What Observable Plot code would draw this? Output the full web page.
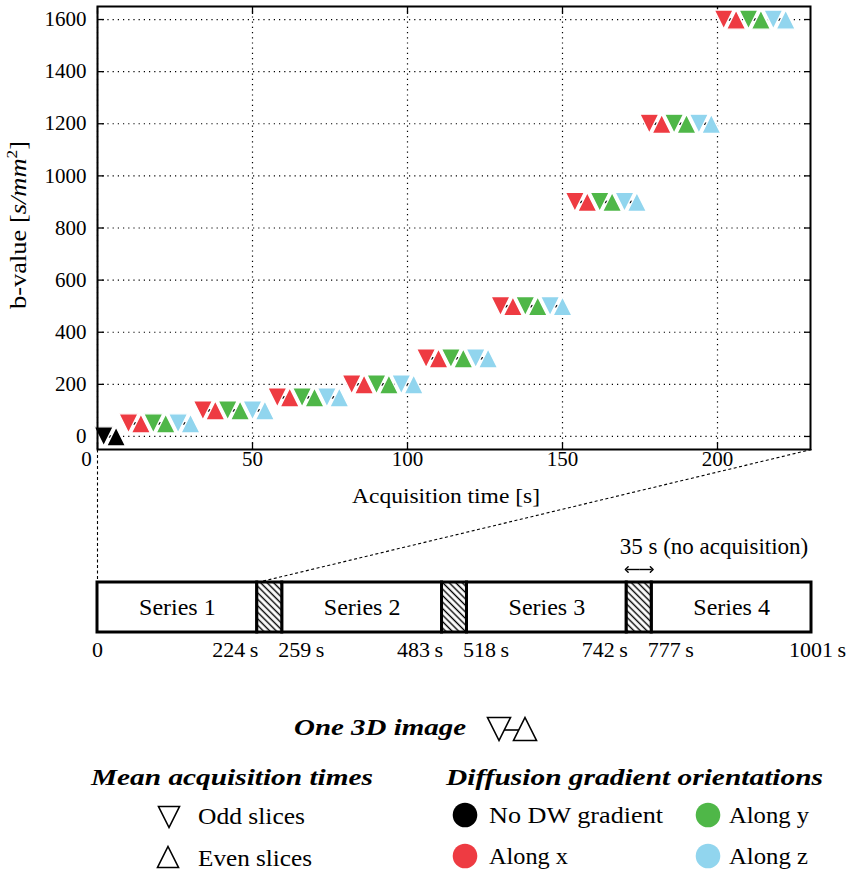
<!DOCTYPE html>
<html>
<head>
<meta charset="utf-8">
<script src="https://cdn.jsdelivr.net/npm/d3@7"></script>
<script src="https://cdn.jsdelivr.net/npm/@observablehq/plot@0.6"></script>
<style>
  body { margin: 0; background: #fff; }
  #wrap { position: relative; width: 850px; height: 871px; overflow: hidden; }
  #wrap svg { position: absolute; left: 0; }
</style>
</head>
<body>
<div id="wrap"></div>
<script>
// ---------------- data ----------------
const bValues = [0, 50, 100, 150, 200, 300, 500, 900, 1200, 1600];
const imageB = [0, 50, 50, 50, 100, 100, 100, 150, 150, 150, 200, 200, 200, 300, 300, 300,
                500, 500, 500, 900, 900, 900, 1200, 1200, 1200, 1600, 1600, 1600];
const imageOrientation = ["none", "x", "y", "z", "x", "y", "z", "x", "y", "z", "x", "y", "z", "x", "y", "z",
                          "x", "y", "z", "x", "y", "z", "x", "y", "z", "x", "y", "z"];
const oddSliceTime = [2, 10, 18, 26, 34, 42, 50, 58, 66, 74, 82, 90, 98, 106, 114, 122,
                      130, 138, 146, 154, 162, 170, 178, 186, 194, 202, 210, 218];
const evenSliceTime = [6, 14, 22, 30, 38, 46, 54, 62, 70, 78, 86, 94, 102, 110, 118, 126,
                       134, 142, 150, 158, 166, 174, 182, 190, 198, 206, 214, 222];
const orientations = ["none", "x", "y", "z"];
const orientationLabels = ["No DW gradient", "Along x", "Along y", "Along z"];
const orientationColors = ["#000000", "#ee3b42", "#4fb748", "#91d5ee"];
const yTicks = [0, 200, 400, 600, 800, 1000, 1200, 1400, 1600];
const xTicks = [0, 50, 100, 150, 200];

const seriesNames = ["Series 1", "Series 2", "Series 3", "Series 4"];
const seriesStart = [0, 259, 518, 777];
const seriesEnd = [224, 483, 742, 1001];
const gapStart = [224, 483, 742];
const gapEnd = [259, 518, 777];
const boundaryTimes = [0, 224, 259, 483, 518, 742, 777, 1001];
const boundaryLabels = ["0", "224\u2009s", "259\u2009s", "483\u2009s", "518\u2009s", "742\u2009s", "777\u2009s", "1001\u2009s"];
const gapNote = "35 s (no acquisition)";

// ---------------- helpers ----------------
const FONT = '"Liberation Serif", "DejaVu Serif", serif';
const images = imageB.map((b, i) => ({b, o: imageOrientation[i], t1: oddSliceTime[i], t2: evenSliceTime[i]}));
const slices = images.flatMap(d => [
  {t: d.t1, b: d.b, o: d.o, kind: "odd"},
  {t: d.t2, b: d.b, o: d.o, kind: "even"}
]);
const triangleDown = {draw(ctx, size) { const r = Math.sqrt(size / Math.PI); ctx.moveTo(0, r); ctx.lineTo(-r, -r); ctx.lineTo(r, -r); ctx.closePath(); }};
const triangleUp = {draw(ctx, size) { const r = Math.sqrt(size / Math.PI); ctx.moveTo(0, -r); ctx.lineTo(r, r); ctx.lineTo(-r, r); ctx.closePath(); }};
const grid = {stroke: "black", strokeOpacity: 1, strokeWidth: 1.2, strokeDasharray: "1.2,4"};
const wrap = document.getElementById("wrap");

// ---------------- top chart ----------------
const topChart = Plot.plot({
  width: 850, height: 519,
  marginTop: 6, marginBottom: 70, marginLeft: 97, marginRight: 40,
  style: {fontFamily: FONT, fontSize: "21px", background: "none", color: "black", overflow: "visible"},
  x: {domain: [0, 230], axis: null},
  y: {domain: [-50, 1650], axis: null},
  color: {domain: orientations, range: orientationColors},
  symbol: {domain: ["odd", "even"], range: [triangleDown, triangleUp]},
  marks: [
    Plot.gridY(yTicks, grid),
    Plot.gridX(xTicks, grid),
    Plot.axisY(yTicks, {anchor: "left", tickSize: 0, tickPadding: 11, label: null, tickFormat: d => String(d)}),
    Plot.axisY(yTicks, {anchor: "left", tickSize: -7, strokeWidth: 1.3, label: null, tickFormat: () => ""}),
    Plot.axisY(yTicks, {anchor: "right", tickSize: -7, strokeWidth: 1.3, label: null, tickFormat: () => ""}),
    Plot.axisX(xTicks, {anchor: "bottom", tickSize: -7, strokeWidth: 1.3, label: null, tickFormat: () => ""}),
    Plot.axisX(xTicks, {anchor: "top", tickSize: -7, strokeWidth: 1.3, label: null, tickFormat: () => ""}),
    Plot.text(xTicks.filter(d => d > 0), {x: d => d, frameAnchor: "bottom", dy: 16, text: d => String(d)}),
    Plot.text(xTicks.filter(d => d === 0), {x: d => d, frameAnchor: "bottom", dy: 16, dx: -11, text: d => String(d)}),
    Plot.link(images, {x1: "t1", x2: "t2", y1: "b", y2: "b", stroke: "black", strokeWidth: 2.5}),
    Plot.dot(slices, {x: "t", y: "b", fill: "o", symbol: "kind", r: 9.6, stroke: "white", strokeWidth: 1.4}),
    Plot.frame({stroke: "black", strokeWidth: 2})
  ]
});
topChart.style.top = "0px";
{
  const s = d3.select(topChart);
  const yl = s.append("text").attr("transform", "translate(26,225) rotate(-90)")
    .attr("text-anchor", "middle").attr("font-size", 23).attr("fill", "black")
    .attr("textLength", 168).attr("lengthAdjust", "spacingAndGlyphs");
  yl.append("tspan").text("b-value [");
  yl.append("tspan").attr("font-style", "italic").text("s/mm");
  yl.append("tspan").attr("font-size", 15).attr("dy", -9).text("2");
  yl.append("tspan").attr("dy", 9).text("]");
  s.append("text").attr("x", 446).attr("y", 503).attr("text-anchor", "middle")
    .attr("font-size", 22).attr("fill", "black").attr("textLength", 188)
    .attr("lengthAdjust", "spacingAndGlyphs").text("Acquisition time [s]");
}
wrap.appendChild(topChart);

// ---------------- series timeline ----------------
const zoomFrameLevel = 3.66;
const series = seriesNames.map((name, i) => ({name, s: seriesStart[i], e: seriesEnd[i]}));
const gaps = gapStart.map((s, i) => ({s, e: gapEnd[i]}));
const bounds = boundaryTimes.map((t, i) => ({t, label: boundaryLabels[i], i}));
const last = boundaryTimes.length - 1;
const connectors = [
  {top: boundaryTimes[0], bar: seriesStart[0]},
  {top: boundaryTimes[last], bar: seriesEnd[0]}
];
const noteGap = gaps[gaps.length - 1];
const arrowHalves = [
  {from: (noteGap.s + noteGap.e) / 2, to: noteGap.s},
  {from: (noteGap.s + noteGap.e) / 2, to: noteGap.e}
];

const timeline = Plot.plot({
  width: 850, height: 223,
  marginTop: 0, marginBottom: 40, marginLeft: 97, marginRight: 39,
  style: {fontFamily: FONT, fontSize: "22px", background: "none", color: "black", overflow: "visible"},
  x: {domain: [0, 1001], axis: null},
  y: {domain: [0, zoomFrameLevel], axis: null},
  marks: [
    Plot.link(connectors, {x1: "top", y1: zoomFrameLevel, x2: "bar", y2: 1, stroke: "black", strokeWidth: 1.1, strokeDasharray: "3,2.5"}),
    Plot.rect(series, {x1: "s", x2: "e", y1: 0, y2: 1, fill: "white", stroke: "black", strokeWidth: 3}),
    Plot.rect(gaps, {x1: "s", x2: "e", y1: 0, y2: 1, fill: "url(#hatch)", stroke: "black", strokeWidth: 3}),
    Plot.text(series, {x: d => (d.s + d.e) / 2, y: 0.5, text: "name", fontSize: 24}),
    Plot.text(bounds.filter(d => d.i === 0), {x: "t", y: 0, dy: 17, text: "label"}),
    Plot.text(bounds.filter(d => d.i === last), {x: "t", y: 0, dy: 17, dx: 6, text: "label"}),
    Plot.text(bounds.filter(d => d.i > 0 && d.i < last && d.i % 2 === 1), {x: "t", y: 0, dy: 17, dx: 1, textAnchor: "end", text: "label"}),
    Plot.text(bounds.filter(d => d.i > 0 && d.i < last && d.i % 2 === 0), {x: "t", y: 0, dy: 17, dx: -4, textAnchor: "start", text: "label"}),
    Plot.link(arrowHalves, {x1: "from", x2: "to", y1: 1, y2: 1, dy: -13, stroke: "black", strokeWidth: 1.4, markerEnd: "arrow"}),
    Plot.text([noteGap], {x: "s", y: 1, dy: -36, dx: -7, textAnchor: "start", text: () => gapNote, fontSize: 23})
  ]
});
timeline.style.top = "449px";
{
  const defs = d3.select(timeline).insert("defs", ":first-child");
  const pat = defs.append("pattern").attr("id", "hatch").attr("patternUnits", "userSpaceOnUse")
    .attr("width", 4.6).attr("height", 4.6).attr("patternTransform", "rotate(-45)");
  pat.append("rect").attr("width", 4.6).attr("height", 4.6).attr("fill", "white");
  pat.append("line").attr("x1", 2.3).attr("x2", 2.3).attr("y1", 0).attr("y2", 4.6)
    .attr("stroke", "black").attr("stroke-width", 1.4);
}
wrap.appendChild(timeline);

// ---------------- legend ----------------
const leg = d3.create("svg").attr("width", 850).attr("height", 871)
  .style("top", "0px").style("pointer-events", "none")
  .style("font-family", FONT);
function triPath(cx, cy, r, down) {
  return down
    ? `M${cx},${cy + r}L${cx - r},${cy - r}L${cx + r},${cy - r}Z`
    : `M${cx},${cy - r}L${cx + r},${cy + r}L${cx - r},${cy + r}Z`;
}
function heading(x, y, text, len) {
  leg.append("text").attr("x", x).attr("y", y).attr("font-size", 23)
    .attr("font-weight", "bold").attr("font-style", "italic")
    .attr("textLength", len).attr("lengthAdjust", "spacingAndGlyphs").text(text);
}
function label(x, y, text, len) {
  leg.append("text").attr("x", x).attr("y", y).attr("font-size", 23)
    .attr("textLength", len).attr("lengthAdjust", "spacingAndGlyphs").text(text);
}
heading(294, 735, "One 3D image", 172);
leg.append("line").attr("x1", 499).attr("x2", 525).attr("y1", 730).attr("y2", 730).attr("stroke", "black").attr("stroke-width", 1.6);
leg.append("path").attr("d", triPath(499, 729, 11.5, true)).attr("fill", "white").attr("stroke", "black").attr("stroke-width", 1.6);
leg.append("path").attr("d", triPath(525, 729, 11.5, false)).attr("fill", "white").attr("stroke", "black").attr("stroke-width", 1.6);

heading(91, 785, "Mean acquisition times", 282);
leg.append("path").attr("d", triPath(169, 817, 10.5, true)).attr("fill", "none").attr("stroke", "black").attr("stroke-width", 1.6);
label(198, 824, "Odd slices", 107);
leg.append("path").attr("d", triPath(168, 857, 10.5, false)).attr("fill", "none").attr("stroke", "black").attr("stroke-width", 1.6);
label(198, 866, "Even slices", 114);

heading(446, 785, "Diffusion gradient orientations", 377);
const legPos = [[465, 815, 489, 823, 174], [465, 856, 489, 864, 79], [708, 815, 729, 823, 80], [708, 856, 729, 864, 79]];
orientations.forEach((o, i) => {
  const [cx, cy, tx, ty, len] = legPos[i];
  leg.append("circle").attr("cx", cx).attr("cy", cy).attr("r", 12.3).attr("fill", orientationColors[i]);
  label(tx, ty, orientationLabels[i], len);
});
wrap.appendChild(leg.node());
</script>
</body>
</html>
